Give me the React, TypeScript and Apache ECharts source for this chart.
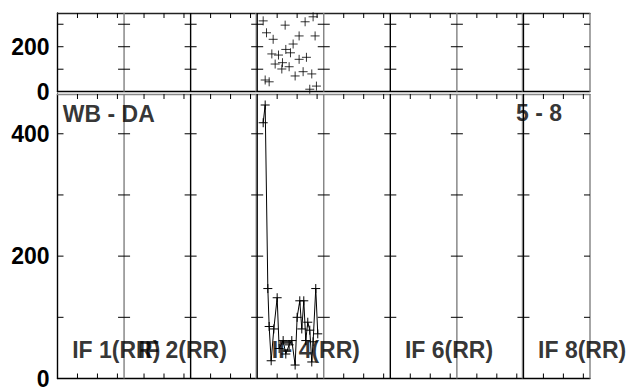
import React, { useEffect, useRef } from "react";
import * as echarts from "echarts";

// panel boundaries on the x axis (10 units per panel), tone: 0 black, 1 gray, 2 black+gray
const boundaries = [0, 10, 20, 30, 40, 50, 60, 70, 80];
const boundaryTone = [0, 1, 0, 2, 1, 0, 1, 2, 1];
const minorOffsets = [3, 6, 9];
const topYTicks = [100, 200, 300];
const botYTicks = [100, 200, 300, 400];
const TOP_MAX = 350;
const BOT_MAX = 465;

// top panel scatter (x, value)
const topX = [30.9, 34.2, 37.2, 38.4, 31.4, 32.4, 36.3, 38.7, 35.4, 34.3, 35.0, 32.2, 33.2, 36.3, 37.4, 32.7, 33.8, 33.7, 34.8, 35.7, 36.9, 38.2, 31.2, 31.8, 37.9, 38.9];
const topY = [315, 296, 311, 333, 262, 233, 248, 248, 212, 188, 173, 168, 163, 144, 153, 123, 129, 101, 111, 70, 89, 79, 52, 44, 11, 25];

// bottom panel line series
const botX = [30.9, 31.2, 31.6, 31.8, 32.1, 32.5, 33.0, 33.3, 33.9, 34.3, 34.8, 35.2, 35.7, 36.0, 36.4, 36.7, 37.0, 37.3, 37.6, 37.9, 38.2, 38.4, 38.8, 39.1];
const botY = [418, 447, 147, 85, 29, 81, 132, 49, 62, 40, 55, 62, 22, 100, 127, 81, 127, 62, 92, 79, 27, 60, 147, 73];

const ifLabels = ["IF 1(RR)", "IF 2(RR)", "IF 4(RR)", "IF 6(RR)", "IF 8(RR)"];
const ifPanelStart = [0, 10, 30, 50, 70];
const ifLabelY = 46;
const cornerLabels = ["WB - DA", "5 - 8"];
const cornerX = [0.8, 68.9];
const cornerY = [433, 434];

const FONT = "'Liberation Sans', Arial, sans-serif";
const crossSymbol = "path://M5 0 L5 10 M0 5 L10 5";

function vlineSeries(gi: number, yMax: number) {
  return {
    type: "custom",
    xAxisIndex: gi,
    yAxisIndex: gi,
    silent: true,
    z: 1,
    clip: false,
    data: boundaries.map((b, i) => [b, boundaryTone[i]]),
    renderItem: (_p: any, api: any) => {
      const x = api.value(0);
      const tone = api.value(1);
      const a = api.coord([x, yMax]);
      const b = api.coord([x, 0]);
      const children: any[] = [];
      if (tone === 2) {
        children.push({
          type: "line",
          shape: { x1: a[0] - 1.2, y1: a[1], x2: b[0] - 1.2, y2: b[1] },
          style: { stroke: "#9a9a9a", lineWidth: 1 },
        });
      }
      if (x !== 0) {
        children.push({
          type: "line",
          shape: { x1: a[0], y1: a[1], x2: b[0], y2: b[1] },
          style: { stroke: tone === 1 ? "#808080" : "#000", lineWidth: 1.4 },
        });
      }
      return { type: "group", children };
    },
  };
}

function yTickSeries(gi: number, ticks: number[]) {
  const data: number[][] = [];
  boundaries.forEach((b) => ticks.forEach((t) => data.push([b, t])));
  return {
    type: "custom",
    xAxisIndex: gi,
    yAxisIndex: gi,
    silent: true,
    z: 2,
    clip: false,
    data,
    renderItem: (_p: any, api: any) => {
      const x = api.value(0);
      const p = api.coord([x, api.value(1)]);
      const l = x === 0 ? 0 : 6;
      const r = x === 80 ? 0 : 6;
      return {
        type: "line",
        shape: { x1: p[0] - l, y1: p[1], x2: p[0] + r, y2: p[1] },
        style: { stroke: "#000", lineWidth: 1 },
      };
    },
  };
}

function minorTickSeries(gi: number, yMax: number, withBottom: boolean) {
  const data: number[][] = [];
  boundaries.slice(0, -1).forEach((b) => minorOffsets.forEach((o) => data.push([b + o, 0])));
  return {
    type: "custom",
    xAxisIndex: gi,
    yAxisIndex: gi,
    silent: true,
    z: 2,
    clip: false,
    data,
    renderItem: (_p: any, api: any) => {
      const x = api.value(0);
      const top = api.coord([x, yMax]);
      const bot = api.coord([x, 0]);
      const children: any[] = [
        { type: "line", shape: { x1: top[0], y1: top[1], x2: top[0], y2: top[1] + 5 }, style: { stroke: "#000", lineWidth: 1 } },
      ];
      if (withBottom) {
        children.push({ type: "line", shape: { x1: bot[0], y1: bot[1], x2: bot[0], y2: bot[1] - 5 }, style: { stroke: "#000", lineWidth: 1 } });
      }
      return { type: "group", children };
    },
  };
}

export default function App() {
  const ref = useRef<HTMLDivElement>(null);
  useEffect(() => {
    document.body.style.margin = "0";
    if (!ref.current) return;
    const chart = echarts.init(ref.current, undefined, { renderer: "svg" });
    const labelStyle = { fontSize: 23, fontWeight: "bold", color: "#000", fontFamily: FONT };
    chart.setOption({
      animation: false,
      backgroundColor: "#fff",
      grid: [
        { left: 57.5, right: 44, top: 13, height: 78.7 },
        { left: 57.5, right: 44, top: 94, height: 287.7 },
      ],
      xAxis: [
        { type: "value", gridIndex: 0, min: 0, max: 80, axisLine: { lineStyle: { color: "#000", width: 1.4 } }, axisTick: { show: false }, axisLabel: { show: false }, splitLine: { show: false } },
        { type: "value", gridIndex: 1, min: 0, max: 80, axisLine: { lineStyle: { color: "#000", width: 1.4 } }, axisTick: { show: false }, axisLabel: { show: false }, splitLine: { show: false } },
        { type: "value", gridIndex: 0, position: "top", min: 0, max: 80, axisLine: { lineStyle: { color: "#222", width: 1.4 } }, axisTick: { show: false }, axisLabel: { show: false }, splitLine: { show: false } },
        { type: "value", gridIndex: 1, position: "top", min: 0, max: 80, axisLine: { lineStyle: { color: "#888", width: 1.4 } }, axisTick: { show: false }, axisLabel: { show: false }, splitLine: { show: false } },
      ],
      yAxis: [
        { type: "value", gridIndex: 0, min: 0, max: TOP_MAX, interval: 200, axisLine: { show: true, lineStyle: { color: "#000", width: 1.4 } }, axisTick: { show: false }, splitLine: { show: false }, axisLabel: { ...labelStyle, margin: 8, showMaxLabel: false } },
        { type: "value", gridIndex: 1, min: 0, max: BOT_MAX, interval: 200, axisLine: { show: true, lineStyle: { color: "#000", width: 1.4 } }, axisTick: { show: false }, splitLine: { show: false }, axisLabel: { ...labelStyle, margin: 8, showMaxLabel: false } },
      ],
      series: [
        vlineSeries(0, TOP_MAX),
        vlineSeries(1, BOT_MAX),
        yTickSeries(0, topYTicks),
        yTickSeries(1, botYTicks),
        minorTickSeries(0, TOP_MAX, false),
        minorTickSeries(1, BOT_MAX, true),
        {
          type: "scatter",
          xAxisIndex: 0,
          yAxisIndex: 0,
          z: 5,
          symbol: crossSymbol,
          symbolSize: 9,
          itemStyle: { color: "none", borderColor: "#000", borderWidth: 1 },
          data: topX.map((x, i) => [x, topY[i]]),
        },
        {
          type: "line",
          xAxisIndex: 1,
          yAxisIndex: 1,
          z: 5,
          symbol: crossSymbol,
          symbolSize: 9,
          showAllSymbol: true,
          lineStyle: { color: "#000", width: 1 },
          itemStyle: { color: "none", borderColor: "#000", borderWidth: 1 },
          data: botX.map((x, i) => [x, botY[i]]),
        },
        {
          type: "scatter",
          xAxisIndex: 1,
          yAxisIndex: 1,
          z: 6,
          symbolSize: 0,
          silent: true,
          clip: false,
          label: { show: true, position: "right", distance: 0, formatter: "{b}", ...labelStyle },
          data: [
            ...ifLabels.map((n, i) => ({ name: n, value: [ifPanelStart[i] + 2.2, ifLabelY] })),
            ...cornerLabels.map((n, i) => ({ name: n, value: [cornerX[i], cornerY[i]] })),
          ],
        },
      ],
    });
    return () => chart.dispose();
  }, []);
  return <div ref={ref} style={{ width: 634, height: 390 }} />;
}
